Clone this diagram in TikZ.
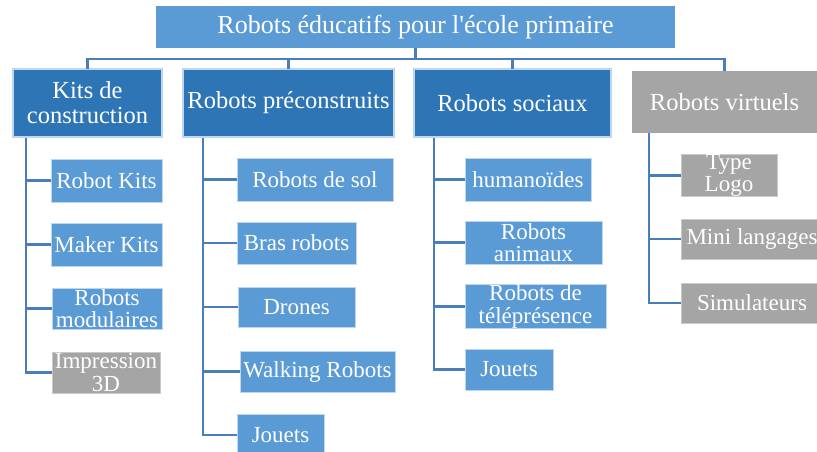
\documentclass[tikz,border=0pt]{standalone}
\usepackage{fontspec}
\setmainfont{Liberation Serif}[Ligatures=TeXOff]
\definecolor{lblue}{HTML}{5B9BD5}
\definecolor{dblue}{HTML}{2E75B6}
\definecolor{gbox}{HTML}{A5A5A5}
\definecolor{lcol}{HTML}{4A7EBB}
\definecolor{bcol}{HTML}{BDD7EE}
\begin{document}
\begin{tikzpicture}[x=1pt,y=-1pt,
  base/.style={inner sep=0pt, outer sep=0pt, text=white, align=center},
  titlebox/.style={base, fill=lblue, font=\fontsize{26}{28}\selectfont},
  lvl/.style={base, fill=dblue, draw=bcol, line width=2pt, font=\fontsize{24.5}{25}\selectfont},
  lvlg/.style={base, fill=gbox, font=\fontsize{24.5}{25}\selectfont},
  sub/.style={base, fill=lblue, draw=bcol, line width=0.8pt, font=\fontsize{23}{22.5}\selectfont},
  subg/.style={base, fill=gbox, draw=gbox!60!white, line width=0.8pt, font=\fontsize{23}{22.5}\selectfont},
  conn/.style={draw=lcol, line width=2.5pt}]
\path[use as bounding box] (0,0) rectangle (817,452);
\clip (0,0) rectangle (817,452);
% title and level 1
\node[titlebox, minimum width=519, minimum height=42] (title) at (415.5,27) {Robots éducatifs pour l'école primaire};
\node[lvl, minimum width=149, minimum height=68] (kits) at (87.5,103) {Kits de\\construction};
\node[lvl, minimum width=211, minimum height=68] (pre) at (288.5,103) {Robots préconstruits};
\node[lvl, minimum width=197, minimum height=68] (soc) at (512.5,103) {Robots sociaux};
\node[lvlg, minimum width=185, minimum height=62] (virt) at (724.5,102) {Robots virtuels};
% kits children
\node[sub, minimum width=111, minimum height=43] (rk) at (106.5,180.5) {Robot Kits};
\node[sub, minimum width=111, minimum height=43] (mk) at (106.5,244.5) {Maker Kits};
\node[sub, minimum width=110, minimum height=41] (rm) at (107,308.5) {Robots\\modulaires};
\node[subg, minimum width=108, minimum height=41] (i3) at (106,372.5) {Impression\\3D};
% preconstruits children
\node[sub, minimum width=156, minimum height=43] (rs) at (315,179.5) {Robots de sol};
\node[sub, minimum width=119, minimum height=42] (br) at (296.5,243) {Bras robots};
\node[sub, minimum width=117, minimum height=40] (dr) at (296.5,307) {Drones};
\node[sub, minimum width=155, minimum height=41] (wr) at (317.5,371.5) {Walking Robots};
\node[sub, minimum width=87, minimum height=42] (jo1) at (280.5,435) {Jouets};
% sociaux children
\node[sub, minimum width=126, minimum height=43] (hu) at (528,179.5) {humanoïdes};
\node[sub, minimum width=137, minimum height=43] (ra) at (533.5,242.5) {Robots\\animaux};
\node[sub, minimum width=141, minimum height=43] (rt) at (535.5,306.5) {Robots de\\téléprésence};
\node[sub, minimum width=88, minimum height=41] (jo2) at (509,369.5) {Jouets};
% virtuels children
\node[subg, minimum width=96, minimum height=41] (tl) at (729,175.5) {Type\\Logo};
\node[subg, minimum width=142, minimum height=40] (ml) at (752,239) {Mini langages};
\node[subg, minimum width=142, minimum height=40] (si) at (752,303) {Simulateurs};
% connectors level 0 -> 1
\coordinate (hub) at (415.5,59);
\draw[conn] (title.south) -- (hub);
\draw[conn] (kits.north) |- (hub) -| (virt.north);
\draw[conn] (pre.north) |- (hub);
\draw[conn] (soc.north) |- (hub);
% spines
\coordinate (ks) at (26,138);
\coordinate (ps) at (203,138);
\coordinate (ss) at (434,138);
\coordinate (vs) at (649,133);
\foreach \c in {rk,mk,rm,i3} \draw[conn] (ks) |- (\c.west);
\foreach \c in {rs,br,dr,wr,jo1} \draw[conn] (ps) |- (\c.west);
\foreach \c in {hu,ra,rt,jo2} \draw[conn] (ss) |- (\c.west);
\foreach \c in {tl,ml,si} \draw[conn] (vs) |- (\c.west);
\end{tikzpicture}
\end{document}
